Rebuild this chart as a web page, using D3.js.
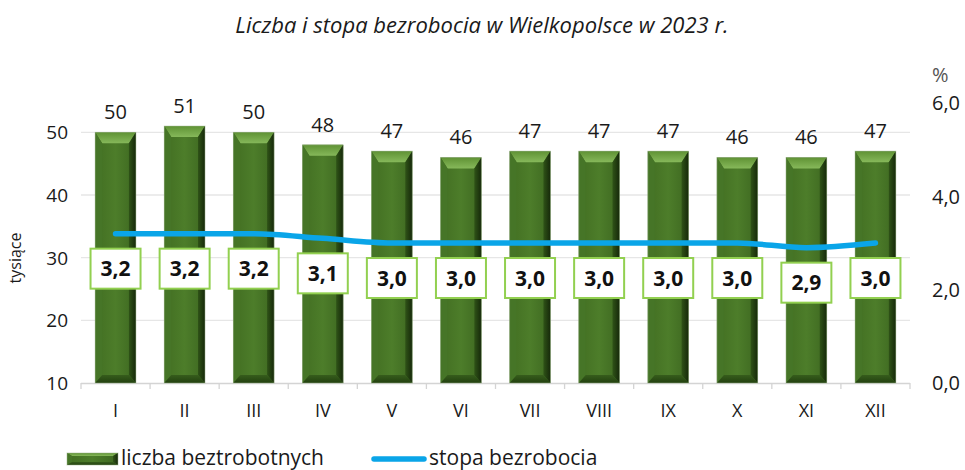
<!DOCTYPE html>
<html><head><meta charset="utf-8">
<script src="https://cdn.jsdelivr.net/npm/d3@7"></script>
<style>
body{margin:0;background:#fff;}
svg{display:block;font-family:"Open Sans", Lato, sans-serif;}
</style></head>
<body><svg id="c" width="965" height="470"></svg>
<script>
const months = ["I","II","III","IV","V","VI","VII","VIII","IX","X","XI","XII"];
const unemployed = [50,51,50,48,47,46,47,47,47,46,46,47];
const rate = [3.2,3.2,3.2,3.1,3.0,3.0,3.0,3.0,3.0,3.0,2.9,3.0];
const leftTicks = [10,20,30,40,50];
const rightTicks = [0,2,4,6];
const title = "Liczba i stopa bezrobocia w Wielkopolsce w 2023 r.";
const leftLabel = "tysiące";
const rightLabel = "%";
const legendBars = "liczba beztrobotnych";
const legendLine = "stopa bezrobocia";

const svg = d3.select("#c");
const L = 81, R = 910, T = 102, B = 383;
const x = d3.scaleBand().domain(months).range([L, R]).paddingInner(0.41).paddingOuter(0.205);
const y = d3.scaleLinear().domain([10, 55]).range([B, T - 1]);
const y2 = d3.scaleLinear().domain([0, 6]).range([B, T + 1]);
const fmt = v => d3.format(".1f")(v).replace(".", ",");

const defs = svg.append("defs");
const g1 = defs.append("linearGradient").attr("id","mainG").attr("x1","0").attr("x2","1").attr("y1","0").attr("y2","0");
g1.append("stop").attr("offset","0").attr("stop-color","#426e22");
g1.append("stop").attr("offset","0.5").attr("stop-color","#4d7d2a");
g1.append("stop").attr("offset","1").attr("stop-color","#3d6720");
const g2 = defs.append("linearGradient").attr("id","topG").attr("x1","0").attr("x2","0").attr("y1","0").attr("y2","1");
g2.append("stop").attr("offset","0").attr("stop-color","#5f9234");
g2.append("stop").attr("offset","1").attr("stop-color","#86b85a");
const g3 = defs.append("linearGradient").attr("id","rightG").attr("x1","0").attr("x2","1").attr("y1","0").attr("y2","0");
g3.append("stop").attr("offset","0").attr("stop-color","#2f5317");
g3.append("stop").attr("offset","1").attr("stop-color","#16290a");
const g4 = defs.append("linearGradient").attr("id","botG").attr("x1","0").attr("x2","0").attr("y1","0").attr("y2","1");
g4.append("stop").attr("offset","0").attr("stop-color","#365d1c");
g4.append("stop").attr("offset","1").attr("stop-color","#22400f");

// gridlines
svg.append("g").selectAll("line").data(leftTicks.filter(d => d > 10)).join("line")
  .attr("x1", L).attr("x2", R).attr("y1", d => y(d)).attr("y2", d => y(d))
  .attr("stroke", "#e6e6e6").attr("stroke-width", 1.3);

// x axis line and ticks
const xa = svg.append("g");
xa.append("line").attr("x1", L).attr("x2", R).attr("y1", B + 0.5).attr("y2", B + 0.5).attr("stroke", "#d4d4d4").attr("stroke-width", 1.3);
const bounds = months.map((m, i) => L + i * x.step()).concat([R]);
xa.selectAll("line.t").data(bounds).join("line").attr("class","t")
  .attr("x1", d => d).attr("x2", d => d).attr("y1", B).attr("y2", B + 6)
  .attr("stroke", "#d4d4d4").attr("stroke-width", 1.3);
xa.selectAll("text").data(months).join("text")
  .attr("x", d => x(d) + x.bandwidth() / 2).attr("y", 411)
  .attr("dy", "0.36em")
  .attr("text-anchor", "middle").attr("font-size", 18).attr("fill", "#1a1a1a").text(d => d);

// bars with bevel
function drawBar(g, x0, y0, w, h, bt, bs, bb) {
  g.append("rect").attr("x", x0).attr("y", y0).attr("width", w).attr("height", h).attr("fill", "url(#mainG)");
  const x1 = x0 + w, y1 = y0 + h;
  g.append("polygon").attr("points", [[x0,y0],[x1,y0],[x1-bs,y0+bt],[x0+bs,y0+bt]].join(" ")).attr("fill", "url(#topG)");
  g.append("polygon").attr("points", [[x0,y0],[x0+bs,y0+bt],[x0+bs,y1-bb],[x0,y1]].join(" ")).attr("fill", "#467527");
  g.append("polygon").attr("points", [[x1,y0],[x1-bs,y0+bt],[x1-bs,y1-bb],[x1,y1]].join(" ")).attr("fill", "url(#rightG)");
  g.append("polygon").attr("points", [[x0,y1],[x0+bs,y1-bb],[x1-bs,y1-bb],[x1,y1]].join(" ")).attr("fill", "url(#botG)");
  g.append("rect").attr("x", x0).attr("y", y0).attr("width", w).attr("height", h).attr("fill", "none").attr("stroke", "#9bb38a").attr("stroke-width", 0.8).attr("stroke-opacity", 0.6);
}
const bars = svg.append("g");
months.forEach((m, i) => {
  const g = bars.append("g");
  drawBar(g, x(m), y(unemployed[i]), x.bandwidth(), B - y(unemployed[i]), 11, 7, 8);
});

// value labels above bars
svg.append("g").selectAll("text").data(unemployed).join("text")
  .attr("x", (d, i) => x(months[i]) + x.bandwidth() / 2)
  .attr("y", d => y(d) - 13)
  .attr("text-anchor", "middle").attr("font-size", 20).attr("fill", "#1a1a1a").text(d => d);

// line
const line = d3.line().x((d, i) => x(months[i]) + x.bandwidth() / 2).y(d => y2(d)).curve(d3.curveMonotoneX);
svg.append("path").datum(rate).attr("d", line).attr("fill", "none")
  .attr("stroke", "#0aa5e8").attr("stroke-width", 5.5).attr("stroke-linecap", "round");

// rate labels
const lab = svg.append("g").selectAll("g").data(rate).join("g")
  .attr("transform", (d, i) => `translate(${x(months[i]) + x.bandwidth() / 2},${y2(d) + 35})`);
lab.append("rect").attr("x", -25).attr("y", -20).attr("width", 50).attr("height", 40)
  .attr("fill", "#fff").attr("stroke", "#92d050").attr("stroke-width", 2);
lab.append("text").attr("text-anchor", "middle").attr("dy", "0.36em")
  .attr("font-size", 21).attr("font-weight", "bold").attr("fill", "#111").text(d => fmt(d));

// left axis
svg.append("g").selectAll("text").data(leftTicks).join("text")
  .attr("x", 68).attr("y", d => y(d)).attr("dy", "0.36em").attr("text-anchor", "end")
  .attr("font-size", 19).attr("fill", "#1a1a1a").text(d => d);
svg.append("text").attr("transform", "translate(21,258) rotate(-90)").attr("text-anchor", "middle")
  .attr("font-size", 16).attr("fill", "#1a1a1a").text(leftLabel);

// right axis
svg.append("g").selectAll("text").data(rightTicks).join("text")
  .attr("x", 932).attr("y", d => y2(d)).attr("dy", "0.36em").attr("text-anchor", "start")
  .attr("font-size", 20).attr("fill", "#1a1a1a").text(d => fmt(d));
svg.append("text").attr("x", 932).attr("y", 75).attr("dy", "0.36em").attr("font-size", 20).attr("fill", "#555").text(rightLabel);

// title
svg.append("text").attr("x", 482).attr("y", 25).attr("dy", "0.36em").attr("text-anchor", "middle")
  .attr("font-size", 22).attr("font-style", "italic").attr("fill", "#1a1a1a").text(title);

// legend
const lg = svg.append("g");
drawBar(lg.append("g"), 67, 453, 51, 12, 3, 5, 3);
lg.append("text").attr("x", 121).attr("y", 457).attr("dy", "0.36em").attr("font-size", 21).attr("fill", "#1a1a1a").text(legendBars);
lg.append("line").attr("x1", 374).attr("x2", 424).attr("y1", 459).attr("y2", 459)
  .attr("stroke", "#0aa5e8").attr("stroke-width", 5.5).attr("stroke-linecap", "round");
lg.append("text").attr("x", 429).attr("y", 457).attr("dy", "0.36em").attr("font-size", 21).attr("fill", "#1a1a1a").text(legendLine);
</script></body></html>
